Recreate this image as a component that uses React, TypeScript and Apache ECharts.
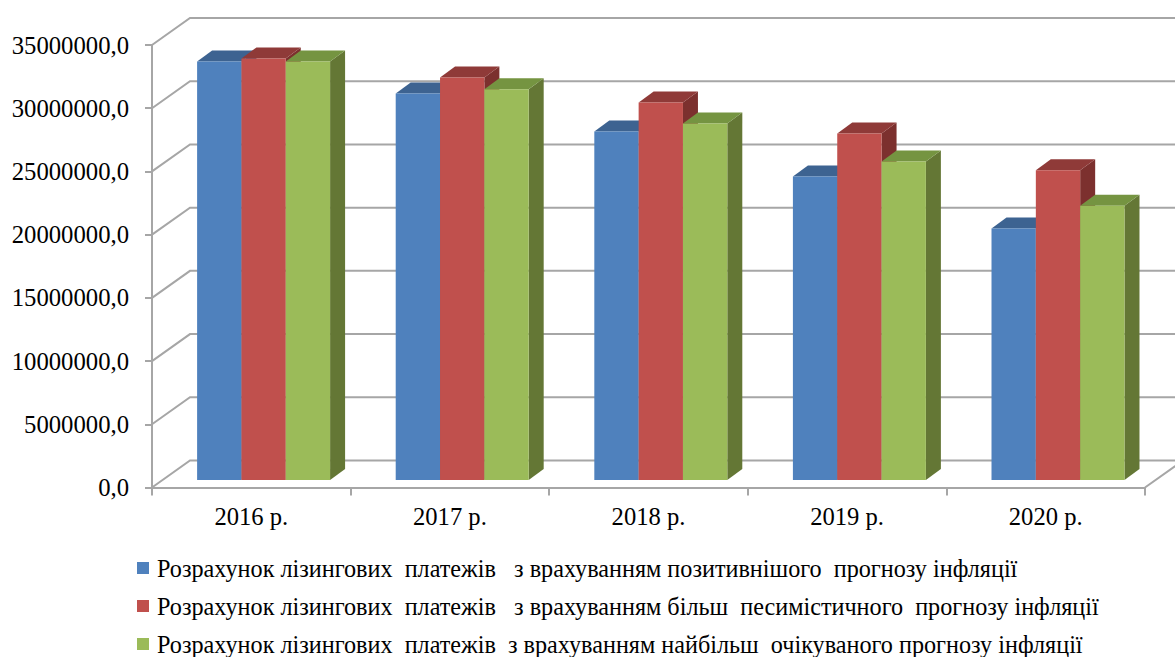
import React, { useEffect, useRef } from "react";
import * as echarts from "echarts";

const categories = ["2016 р.", "2017 р.", "2018 р.", "2019 р.", "2020 р."];
const positiveForecast = [33100000, 30570000, 27570000, 24000000, 19900000];
const pessimisticForecast = [33340000, 31840000, 29860000, 27400000, 24500000];
const expectedForecast = [33100000, 30900000, 28200000, 25200000, 21700000];
const gridValues = [0, 5000000, 10000000, 15000000, 20000000, 25000000, 30000000, 35000000];
const seriesNames = [
  "Розрахунок лізингових  платежів   з врахуванням позитивнішого  прогнозу інфляції",
  "Розрахунок лізингових  платежів   з врахуванням більш  песимістичного  прогнозу інфляції",
  "Розрахунок лізингових  платежів  з врахуванням найбільш  очікуваного прогнозу інфляції",
];
const faceColors = ["#4F81BD", "#C0504D", "#9BBB59"];
const topColors = ["#3D6391", "#8F3A38", "#759441"];
const sideColors = ["#385D8A", "#7C302E", "#647735"];

const FONT = '"Liberation Serif", "Times New Roman", serif';
const GREY = "#A6A6A6";
const WALL_DX = 38;
const WALL_DY = 27;
const DEPTH_X = 15;
const DEPTH_Y = 11;
const BAR_SHIFT_X = 12.3;
const BAR_SHIFT_Y = 7.5;
const BAR_RATIO = 0.2232;

function wallItem(params: any, api: any) {
  const v = api.value(1);
  const cs = params.coordSys;
  const [, y] = api.coord([0, v]);
  const left = cs.x;
  const right = cs.x + cs.width;
  const pts: number[][] = [
    [left, y],
    [left + WALL_DX, y - WALL_DY],
    [right + WALL_DX, y - WALL_DY],
  ];
  if (v === 0) pts.push([right, y]);
  return {
    type: "polyline",
    shape: { points: pts },
    style: { stroke: GREY, lineWidth: 2, fill: "none" },
  };
}

function barItem(index: number) {
  return (_params: any, api: any) => {
    const cat = api.value(0);
    const val = api.value(1);
    const [cx, y0] = api.coord([cat, 0]);
    const [, y1] = api.coord([cat, val]);
    const w = api.size([1, 0])[0] * BAR_RATIO;
    const x = cx + BAR_SHIFT_X - 1.5 * w + index * w;
    const b = y0 - BAR_SHIFT_Y;
    const t = y1 - BAR_SHIFT_Y;
    return {
      type: "group",
      children: [
        {
          type: "polygon",
          shape: {
            points: [
              [x + w, t],
              [x + w + DEPTH_X, t - DEPTH_Y],
              [x + w + DEPTH_X, b - DEPTH_Y],
              [x + w, b],
            ],
          },
          style: { fill: sideColors[index] },
        },
        {
          type: "polygon",
          shape: {
            points: [
              [x, t],
              [x + DEPTH_X, t - DEPTH_Y],
              [x + w + DEPTH_X, t - DEPTH_Y],
              [x + w, t],
            ],
          },
          style: { fill: topColors[index] },
        },
        {
          type: "rect",
          shape: { x, y: t, width: w, height: b - t },
          style: { fill: faceColors[index] },
        },
      ],
    };
  };
}

export default function App() {
  const ref = useRef<HTMLDivElement>(null);
  useEffect(() => {
    document.body.style.margin = "0";
    const chart = echarts.init(ref.current!, undefined, { renderer: "svg" });
    const values = [positiveForecast, pessimisticForecast, expectedForecast];
    chart.setOption({
      animation: false,
      backgroundColor: "#fff",
      grid: { left: 152, top: 45, width: 993, height: 442.5, containLabel: false },
      xAxis: {
        type: "category",
        data: categories,
        axisLine: { lineStyle: { color: GREY, width: 2 } },
        axisTick: { show: true, length: 8, alignWithLabel: false, lineStyle: { color: GREY, width: 2 } },
        axisLabel: { fontFamily: FONT, fontSize: 24.6, color: "#000", margin: 16 },
        splitLine: { show: false },
      },
      yAxis: {
        type: "value",
        min: 0,
        max: 35000000,
        interval: 5000000,
        axisLine: { show: true, lineStyle: { color: GREY, width: 2 } },
        axisTick: { show: true, length: 7, lineStyle: { color: GREY, width: 2 } },
        axisLabel: {
          fontFamily: FONT,
          fontSize: 24.7,
          color: "#000",
          margin: 23,
          formatter: (v: number) => v.toFixed(1).replace(".", ","),
        },
        splitLine: { show: false },
      },
      legend: {
        orient: "vertical",
        left: 137,
        top: 554,
        height: 300,
        padding: 0,
        itemWidth: 12,
        itemHeight: 12,
        itemGap: 10,
        icon: "rect",
        align: "left",
        data: seriesNames,
        textStyle: { fontFamily: FONT, fontSize: 24.2, color: "#000", lineHeight: 28, padding: [0, 0, 0, 3] },
      },
      series: [
        {
          type: "custom",
          name: "walls",
          silent: true,
          clip: false,
          z: 1,
          renderItem: wallItem,
          encode: { x: 0, y: 1 },
          data: gridValues.map((v) => [0, v]),
        },
        ...seriesNames.map((name, i) => ({
          type: "custom",
          name,
          clip: false,
          z: 3 + i,
          itemStyle: { color: faceColors[i] },
          renderItem: barItem(i),
          encode: { x: 0, y: 1 },
          data: values[i].map((v, k) => [k, v]),
        })),
      ],
    });
    return () => chart.dispose();
  }, []);
  return <div ref={ref} style={{ position: "fixed", left: 0, top: 0, width: 1175, height: 657 }} />;
}
